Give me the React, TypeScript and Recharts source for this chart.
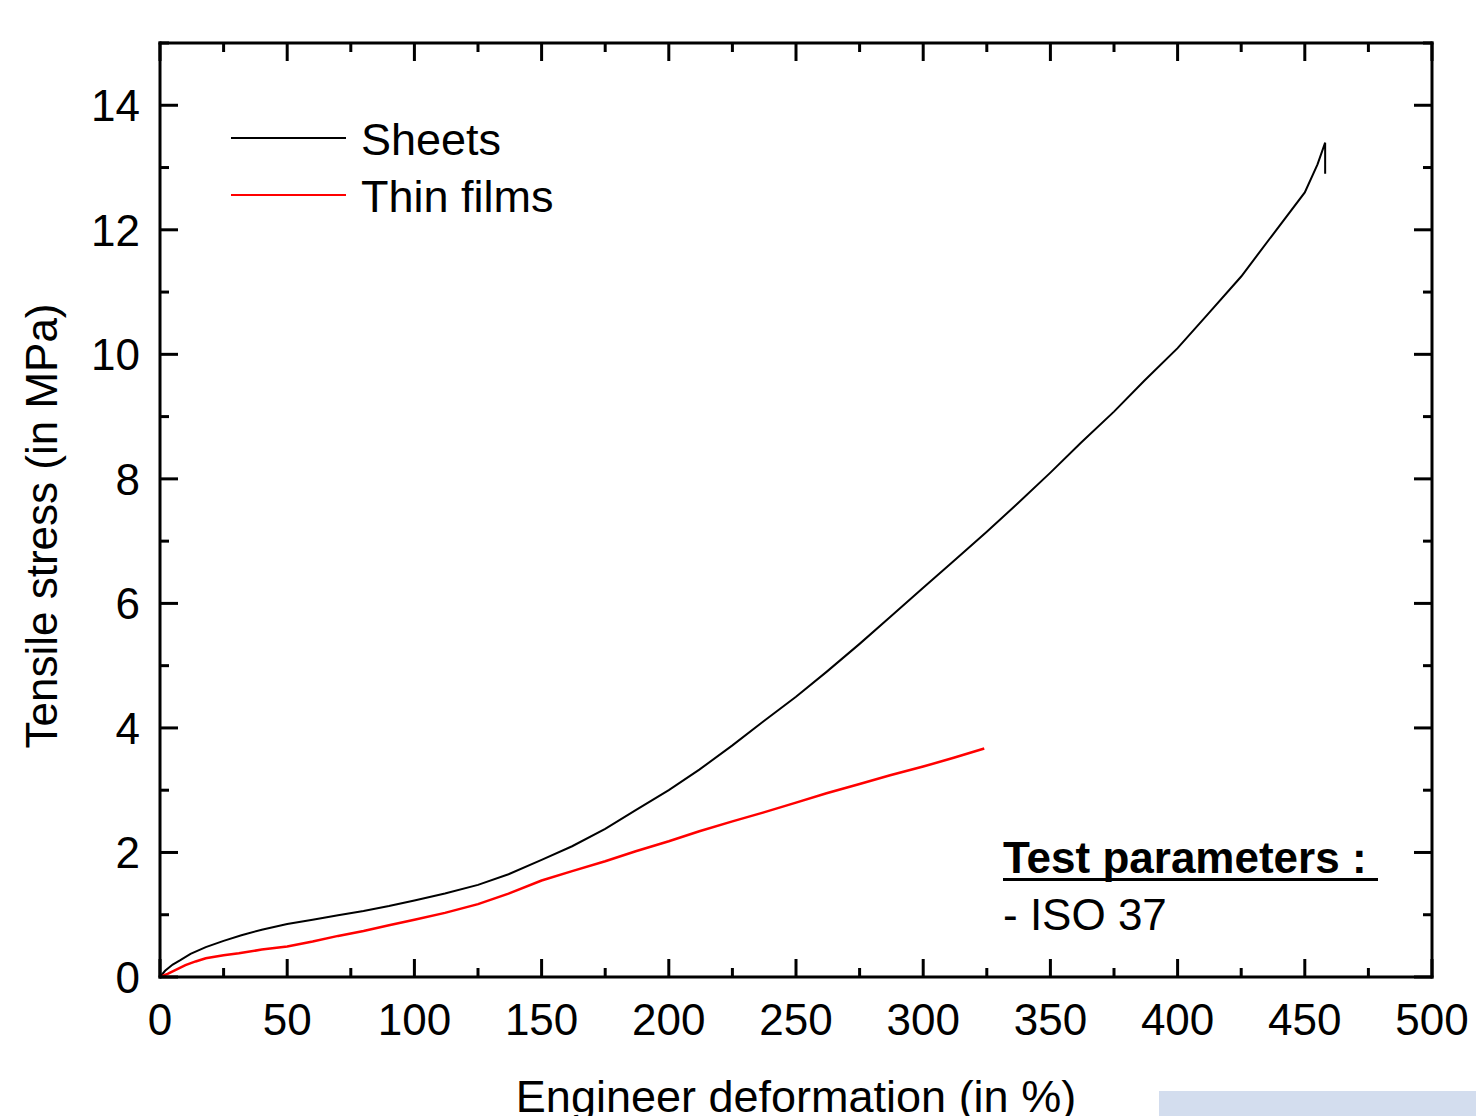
import { LineChart, Line, XAxis, YAxis, Legend } from "recharts";

const FONT = "'Liberation Sans', Arial, Helvetica, sans-serif";

// axis ticks (minor every 25 % / 1 MPa, labels on the major ones)
const xTicks = [0, 25, 50, 75, 100, 125, 150, 175, 200, 225, 250, 275, 300, 325, 350, 375, 400, 425, 450, 475, 500];
const xLabels = [0, 50, 100, 150, 200, 250, 300, 350, 400, 450, 500];
const yTicks = [0, 1, 2, 3, 4, 5, 6, 7, 8, 9, 10, 11, 12, 13, 14, 15];
const yLabels = [0, 2, 4, 6, 8, 10, 12, 14];

// Sheets curve (deformation %, stress MPa)
const sheetsX = [0, 2, 5, 8, 12, 18, 25, 32, 40, 50, 60, 70, 80, 90, 100, 112, 125, 137, 150, 162, 175, 187, 200, 212, 225, 237, 250, 262, 275, 287, 300, 312, 325, 337, 350, 362, 375, 387, 400, 412, 425, 437, 450, 455, 458, 458];
const sheetsY = [0, 0.1, 0.2, 0.27, 0.37, 0.48, 0.58, 0.67, 0.76, 0.85, 0.92, 0.99, 1.06, 1.14, 1.23, 1.34, 1.48, 1.65, 1.88, 2.1, 2.38, 2.68, 3.0, 3.33, 3.72, 4.1, 4.5, 4.9, 5.35, 5.78, 6.25, 6.68, 7.15, 7.6, 8.1, 8.58, 9.08, 9.58, 10.1, 10.65, 11.25, 11.9, 12.6, 13.05, 13.4, 12.9];

// Thin films curve
const filmsX = [0, 3, 6, 10, 14, 18, 25, 31, 40, 50, 60, 70, 80, 90, 100, 112, 125, 137, 150, 162, 175, 187, 200, 212, 225, 237, 250, 262, 275, 287, 300, 312, 324];
const filmsY = [0, 0.05, 0.11, 0.19, 0.25, 0.3, 0.35, 0.38, 0.44, 0.49, 0.57, 0.66, 0.74, 0.83, 0.92, 1.03, 1.17, 1.34, 1.55, 1.7, 1.86, 2.02, 2.18, 2.34, 2.5, 2.64, 2.8, 2.95, 3.1, 3.24, 3.38, 3.52, 3.67];

const sheets = sheetsX.map((x, i) => ({ x, y: sheetsY[i] }));
const films = filmsX.map((x, i) => ({ x, y: filmsY[i] }));

const MAJOR = 18;
const MINOR = 9;
const axisLine = { stroke: "#000", strokeWidth: 3, strokeLinecap: "square" as const };

function BottomTick({ x, y, payload }: any) {
  const major = xLabels.includes(payload.value);
  return (
    <g>
      <line x1={x} x2={x} y1={y} y2={y - (major ? MAJOR : MINOR)} stroke="#000" strokeWidth={3} />
      {major && (
        <text x={x} y={y + 58} textAnchor="middle" fontSize={44} fontFamily={FONT} fill="#000">
          {payload.value}
        </text>
      )}
    </g>
  );
}

function TopTick({ x, y, payload }: any) {
  const major = xLabels.includes(payload.value);
  return <line x1={x} x2={x} y1={y} y2={y + (major ? MAJOR : MINOR)} stroke="#000" strokeWidth={3} />;
}

function LeftTick({ x, y, payload }: any) {
  const major = yLabels.includes(payload.value);
  return (
    <g>
      <line x1={x} x2={x + (major ? MAJOR : MINOR)} y1={y} y2={y} stroke="#000" strokeWidth={3} />
      {major && (
        <text x={x - 20} y={y + 16} textAnchor="end" fontSize={44} fontFamily={FONT} fill="#000">
          {payload.value}
        </text>
      )}
    </g>
  );
}

function RightTick({ x, y, payload }: any) {
  const major = yLabels.includes(payload.value);
  return <line x1={x} x2={x - (major ? MAJOR : MINOR)} y1={y} y2={y} stroke="#000" strokeWidth={3} />;
}

function LegendBox({ payload }: any) {
  const items = (payload || []).filter((p: any) => p.type !== "none");
  return (
    <div style={{ position: "relative", width: 400, height: 120, fontFamily: FONT }}>
      {items.map((p: any, i: number) => (
        <div key={p.value}>
          <div
            style={{
              position: "absolute",
              left: 0,
              top: 27 + i * 57,
              width: 115,
              height: 0,
              borderTop: `2px solid ${p.color}`,
            }}
          />
          <div
            style={{
              position: "absolute",
              left: 130,
              top: 8 + i * 57,
              fontSize: 45,
              lineHeight: "44px",
              color: "#000",
              whiteSpace: "nowrap",
            }}
          >
            {p.value}
          </div>
        </div>
      ))}
    </div>
  );
}

export default function App() {
  return (
    <div
      style={{
        position: "fixed",
        left: 0,
        top: 0,
        width: 1476,
        height: 1116,
        overflow: "hidden",
        background: "#fff",
        fontFamily: FONT,
      }}
    >
      <LineChart width={1476} height={1116} margin={{ top: 42, right: 43, bottom: 0, left: 0 }}>
        <XAxis
          dataKey="x"
          type="number"
          domain={[0, 500]}
          ticks={xTicks}
          interval={0}
          height={139}
          tickSize={0}
          tickMargin={0}
          tickLine={false}
          axisLine={axisLine}
          tick={BottomTick}
          label={(p: any) => {
            const vb = p.viewBox;
            return (
              <text x={vb.x + vb.width / 2} y={vb.y + 135} textAnchor="middle" fontSize={45} fontFamily={FONT} fill="#000">
                Engineer deformation (in %)
              </text>
            );
          }}
        />
        <XAxis
          xAxisId="top"
          orientation="top"
          dataKey="x"
          type="number"
          domain={[0, 500]}
          allowDataOverflow
          ticks={xTicks}
          interval={0}
          height={1}
          tickSize={0}
          tickMargin={0}
          tickLine={false}
          axisLine={axisLine}
          tick={TopTick}
        />
        <YAxis
          type="number"
          domain={[0, 15]}
          ticks={yTicks}
          interval={0}
          width={160}
          tickSize={0}
          tickMargin={0}
          tickLine={false}
          axisLine={axisLine}
          tick={LeftTick}
          label={(p: any) => {
            const vb = p.viewBox;
            const cx = vb.x + 57;
            const cy = vb.y + vb.height / 2 + 16;
            return (
              <text
                x={cx}
                y={cy}
                transform={`rotate(-90 ${cx} ${cy})`}
                textAnchor="middle"
                fontSize={44}
                fontFamily={FONT}
                fill="#000"
              >
                Tensile stress (in MPa)
              </text>
            );
          }}
        />
        <YAxis
          yAxisId="right"
          orientation="right"
          type="number"
          domain={[0, 15]}
          allowDataOverflow
          ticks={yTicks}
          interval={0}
          width={1}
          tickSize={0}
          tickMargin={0}
          tickLine={false}
          axisLine={axisLine}
          tick={RightTick}
        />
        <Legend
          layout="horizontal"
          verticalAlign="middle"
          align="center"
          content={LegendBox}
          wrapperStyle={{ left: 231, top: 110, width: 400, height: 120 }}
        />
        <Line
          name="Sheets"
          data={sheets}
          dataKey="y"
          stroke="#000"
          strokeWidth={2}
          dot={false}
          isAnimationActive={false}
          type="linear"
        />
        <Line
          name="Thin films"
          data={films}
          dataKey="y"
          stroke="#ff0000"
          strokeWidth={2.5}
          dot={false}
          isAnimationActive={false}
          type="linear"
        />
        {/* invisible copy bound to the mirror axes so the top/right frame is drawn */}
        <Line
          xAxisId="top"
          yAxisId="right"
          data={sheets}
          dataKey="y"
          stroke="none"
          legendType="none"
          dot={false}
          activeDot={false}
          isAnimationActive={false}
        />
      </LineChart>

      <div style={{ position: "absolute", left: 1003, top: 836, fontSize: 44, lineHeight: "44px", fontWeight: "bold", color: "#000" }}>
        <span style={{ borderBottom: "3px solid #000", paddingRight: 11, display: "inline-block", lineHeight: "44px", height: 42 }}>
          Test parameters :
        </span>
      </div>
      <div style={{ position: "absolute", left: 1003, top: 893, fontSize: 44, lineHeight: "44px", color: "#000" }}>
        - ISO 37
      </div>
      <div style={{ position: "absolute", left: 1159, top: 1091, width: 317, height: 25, background: "#d3ddee" }} />
    </div>
  );
}
